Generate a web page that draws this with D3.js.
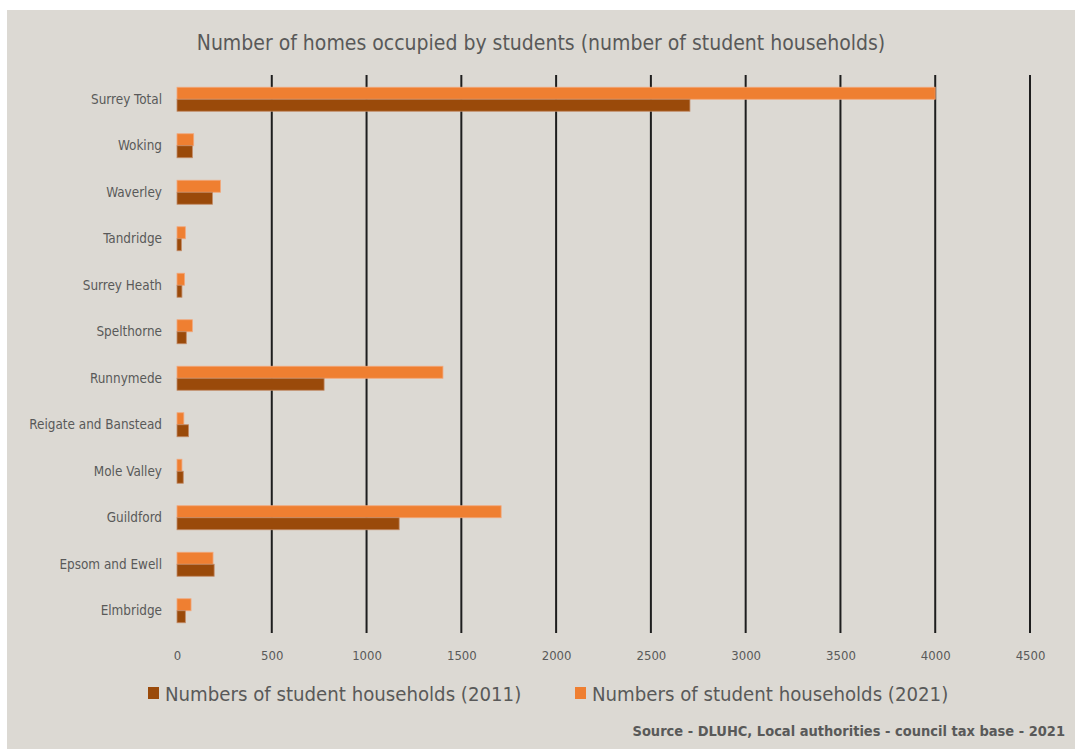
<!DOCTYPE html>
<html><head><meta charset="utf-8">
<script src="https://cdn.jsdelivr.net/npm/d3@7"></script>
<style>body{margin:0;background:#fff}svg{display:block}</style>
</head><body><svg id="c" width="1075" height="749"></svg>
<script>
const categories = ["Surrey Total","Woking","Waverley","Tandridge","Surrey Heath","Spelthorne","Runnymede","Reigate and Banstead","Mole Valley","Guildford","Epsom and Ewell","Elmbridge"];
const values2011 = [2706, 81, 187, 23, 26, 49, 776, 61, 33, 1172, 196, 44];
const values2021 = [4000, 88, 229, 44, 40, 81, 1403, 36, 26, 1710, 190, 74];
const tickValues = [0,500,1000,1500,2000,2500,3000,3500,4000,4500];
const seriesNames = ["Numbers of student households (2011)","Numbers of student households (2021)"];
const colors = ["#9a4a0a","#ef7f31"];
const font = "'DejaVu Sans Condensed','Liberation Sans Narrow','Open Sans',sans-serif";

const svg = d3.select("#c");
svg.append("rect").attr("x",7).attr("y",10).attr("width",1068).attr("height",739).attr("fill","#dcd9d3");

const x = d3.scaleLinear().domain([0,4500]).range([177,1030]);
const y = d3.scaleBand().domain(categories).range([76,634]).paddingInner(0).paddingOuter(0);
const barH = 12;

svg.append("text").attr("x",541).attr("y",50).attr("text-anchor","middle")
  .attr("font-family",font).attr("font-size",21).attr("fill","#595959")
  .text("Number of homes occupied by students (number of student households)");

// gridlines
svg.append("g").selectAll("line").data(tickValues.filter(d=>d>0)).join("line")
  .attr("x1",d=>x(d)).attr("x2",d=>x(d)).attr("y1",75).attr("y2",633)
  .attr("stroke","#1e1e1e").attr("stroke-width",2);

// x tick labels
const xAxis = d3.axisBottom(x).tickValues(tickValues).tickFormat(d3.format("d")).tickSize(0).tickPadding(0);
const gx = svg.append("g").attr("transform","translate(0,660)").call(xAxis);
gx.select(".domain").remove();
gx.selectAll("text").attr("font-family",font).attr("font-size",13).attr("fill","#595959").attr("dy","0");

// y labels
const yAxis = d3.axisLeft(y).tickSize(0).tickPadding(0);
const gy = svg.append("g").attr("transform","translate(162,0)").call(yAxis);
gy.select(".domain").remove();
gy.selectAll("text").attr("font-family",font).attr("font-size",13.4).attr("fill","#595959");

const rows = categories.map((c,i)=>({c, v11: values2011[i], v21: values2021[i]}));
const g = svg.append("g");
rows.forEach(r=>{
  const cy = y(r.c) + y.bandwidth()/2;
  g.append("rect").attr("x",x(0)).attr("y",cy-barH).attr("width",x(r.v21)-x(0)).attr("height",barH)
    .attr("fill",colors[1]).attr("stroke","#f2a77a").attr("stroke-width",0.8);
  g.append("rect").attr("x",x(0)).attr("y",cy).attr("width",x(r.v11)-x(0)).attr("height",barH)
    .attr("fill",colors[0]).attr("stroke","#c28a66").attr("stroke-width",0.8);
});

// legend
const leg = svg.append("g");
const legItems = [{n:seriesNames[0],c:colors[0],x:148},{n:seriesNames[1],c:colors[1],x:575}];
legItems.forEach(it=>{
  leg.append("rect").attr("x",it.x).attr("y",687).attr("width",11).attr("height",12).attr("fill",it.c);
  leg.append("text").attr("x",it.x+17).attr("y",701).attr("font-family",font).attr("font-size",20.2)
    .attr("fill","#595959").text(it.n);
});

svg.append("text").attr("x",1065).attr("y",736).attr("text-anchor","end")
  .attr("font-family",font).attr("font-size",14.5).attr("font-weight","bold").attr("fill","#595959")
  .text("Source - DLUHC, Local authorities - council tax base - 2021");
</script></body></html>
